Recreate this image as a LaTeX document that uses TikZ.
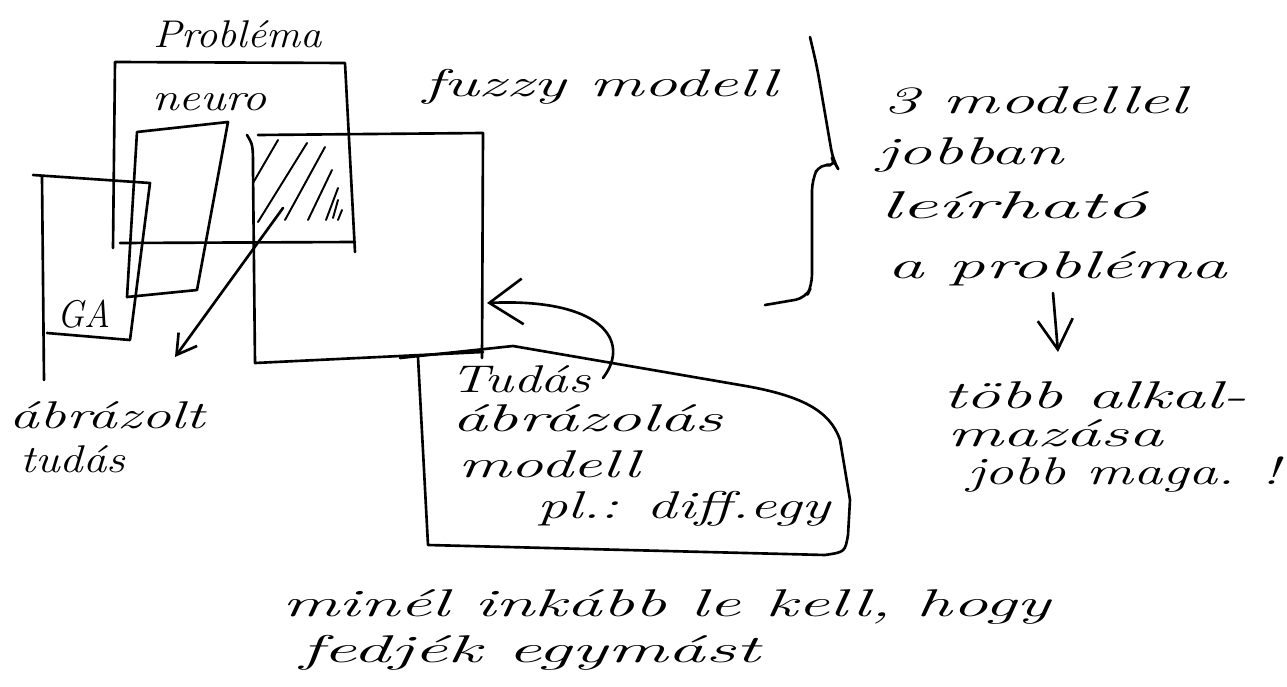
\documentclass[tikz,border=0pt]{standalone}
\usepackage{fontspec}
\usepackage{graphicx}
\usetikzlibrary{arrows.meta}
\newlength\pxu \setlength\pxu{0.02cm}
\newcommand\hw[2]{\resizebox{#1\pxu}{\height}{#2}}
\tikzset{
  ink/.style={line width=1.5pt, line cap=round, line join=round},
  thin ink/.style={line width=1.1pt, line cap=round},
  hand/.style={inner sep=0pt, outer sep=0pt, font=\fontsize{22}{26}\selectfont\itshape, anchor=base west},
  barb/.style={ink, -{Straight Barb[length=11pt,width=13pt]}},
  bigbarb/.style={ink, -{Straight Barb[length=19pt,width=26pt]}},
}
\begin{document}
\begin{tikzpicture}[x=0.02cm, y=-0.02cm]
\useasboundingbox (0,0) rectangle (1287,686);
\fill[white] (0,0) rectangle (1287,686);

% Problem box
\draw[ink] (113,248) -- (115,62) -- (345,63) -- (355,252);
\draw[ink] (120,243) -- (355,242);
% neuro box
\draw[ink] (137,132) -- (228,122) -- (197,290) -- (127,297) -- cycle;
% GA box
\draw[ink] (33,175) -- (150,183) -- (130,340) -- (47,333);
\draw[ink] (42,177) -- (44,380);
% fuzzy box
\draw[ink] (258,135) -- (483,133) -- (482,358);
\draw[ink] (247,135) .. controls (253,145) .. (253,170) -- (255,363) -- (483,352);
% hatching
\draw[thin ink] (253,183) -- (278,140);
\draw[thin ink] (258,222) -- (307,143);
\draw[thin ink] (285,220) -- (325,147);
\draw[thin ink] (308,220) -- (332,170);
\draw[thin ink] (326,220) -- (338,188);
\draw[thin ink] (333,218) -- (338,200);
\draw[thin ink] (338,220) -- (342,210);

% Tudas box
\draw[ink] (400,358) -- (513,346) -- (740,385)
  .. controls (800,395) and (830,410) .. (840,440) -- (850,500) -- (848,535)
  .. controls (845,552) .. (825,555) -- (428,545) -- (418,357);

% texts
\node[hand] (problema) at (153,48) {\hw{169}{Probléma}};
\node[hand] (neuro) at (152,111) {\hw{115}{neuro}};
\node[hand] (fuzzy) at (423,96) {\hw{354}{fuzzy modell}};
\node[hand] (ga) at (57,327) {\hw{53}{GA}};
\node[hand] (abr1) at (10,428) {\hw{195}{ábrázolt}};
\node[hand] (abr2) at (20,472) {\hw{105}{tudás}};
\node[hand] (tud1) at (450,392) {\hw{140}{Tudás}};
\node[hand] (tud2) at (452,431) {\hw{270}{ábrázolás}};
\node[hand] (tud3) at (458,477) {\hw{182}{modell}};
\node[hand] (tud4) at (537,518) {\hw{293}{pl.: diff.egy}};
\node[hand] (r1) at (883,113) {\hw{304}{3 modellel}};
\node[hand] (r2) at (877,164) {\hw{186}{jobban}};
\node[hand] (r3) at (880,218) {\hw{267}{leírható}};
\node[hand] (r4) at (887,278) {\hw{340}{a probléma}};
\node[hand] (r5) at (943,408) {\hw{304}{több alkal-}};
\node[hand] (r6) at (947,446) {\hw{216}{mazása}};
\node[hand] (r7) at (967,484) {\hw{313}{jobb maga. !}};
\node[hand] (b1) at (282,616) {\hw{768}{minél inkább le kell, hogy}};
\node[hand] (b2) at (300,662) {\hw{460}{fedjék egymást}};

% connectors
\coordinate (hatch) at (283,208);
\coordinate (abrtip) at (175,357);
\draw[barb] (hatch) -- (abrtip);
\coordinate (tudstart) at (603,378);
\coordinate (fuzzyright) at (487,303);
\draw[bigbarb] (tudstart) .. controls (632,340) and (600,298) .. (fuzzyright);
\coordinate (downA) at (1053,293);
\coordinate (downB) at (1058,352);
\draw[ink, -{Straight Barb[length=17pt,width=20pt]}] (downA) -- (downB);

% brace
\draw[ink, rounded corners=6pt] (810,37) -- (817,67) -- (833,160) -- (837,167) -- (820,163)
  -- (812,180) -- (812,285) -- (806,298) -- (765,305);
\end{tikzpicture}
\end{document}
